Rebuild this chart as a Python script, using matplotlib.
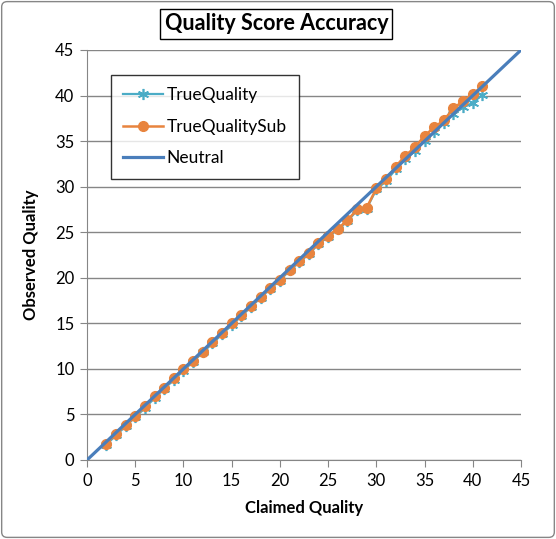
import matplotlib
matplotlib.use('Agg')
import matplotlib.pyplot as plt
from matplotlib.patches import FancyBboxPatch

plt.rcParams['font.family'] = ['Lato', 'DejaVu Sans']

# claimed quality (x) for the two measured series
claimed = list(range(2, 42))
true_sub = [1.8, 2.9, 3.8, 4.8, 5.9, 7.0, 7.9, 9.0, 10.0, 10.9,
            11.9, 13.0, 13.9, 15.0, 15.9, 16.9, 17.9, 18.9, 19.8, 20.9,
            21.8, 22.7, 23.8, 24.6, 25.4, 26.3, 27.5, 27.7, 29.8, 30.8,
            32.2, 33.4, 34.3, 35.6, 36.5, 37.3, 38.6, 39.4, 40.2, 41.0]
true_q = [1.7, 2.7, 3.7, 4.7, 5.7, 6.8, 7.8, 8.8, 9.8, 10.8,
          11.8, 12.8, 13.8, 14.8, 15.8, 16.8, 17.8, 18.8, 19.7, 20.8,
          21.7, 22.6, 23.7, 24.5, 25.3, 26.2, 27.4, 27.6, 29.7, 30.6,
          31.9, 33.0, 33.9, 35.0, 36.0, 37.0, 38.0, 38.7, 39.2, 40.1]
neutral_x = list(range(0, 46))
neutral_y = list(range(0, 46))

fig = plt.figure(figsize=(5.56, 5.39), dpi=100)
ax = fig.add_axes([87/556, 1 - 460/539, (521-87)/556, (460-50)/539])

ax.plot(claimed, true_q, color='#4BACC6', lw=1.6, marker=(6, 2, 0),
        ms=8, mew=1.2, label='TrueQuality', zorder=3)
ax.plot(claimed, true_sub, color='#E8843E', lw=1.8, marker='o',
        ms=7, label='TrueQualitySub', zorder=4)
ax.plot(neutral_x, neutral_y, color='#4A7EBB', lw=2.3, label='Neutral', zorder=5)

ax.set_xlim(0, 45)
ax.set_ylim(0, 45)
ax.set_xticks(range(0, 46, 5))
ax.set_yticks(range(0, 46, 5))
ax.yaxis.grid(True, color='#868686', lw=1)
ax.set_axisbelow(True)
for s in ['top', 'right']:
    ax.spines[s].set_visible(False)
for s in ['left', 'bottom']:
    ax.spines[s].set_color('#868686')
ax.tick_params(axis='both', direction='out', length=5, color='#868686',
               labelsize=12, pad=4)

ax.set_xlabel('Claimed Quality', fontsize=12, fontweight='bold', labelpad=8)
ax.set_ylabel('Observed Quality', fontsize=12, fontweight='bold', labelpad=12)

leg = ax.legend(loc='upper left', bbox_to_anchor=((111-87)/434, (460-75)/410),
                fontsize=12.5, frameon=True, fancybox=False, edgecolor='black',
                borderpad=0.7, labelspacing=0.9, handlelength=2.3,
                handletextpad=0.2, borderaxespad=0)
leg.get_frame().set_linewidth(1)

fig.text(0.497, 1 - 24/539, 'Quality Score Accuracy', ha='center', va='center',
         fontsize=15.5, fontweight='bold',
         bbox=dict(boxstyle='square,pad=0.2', fc='white', ec='black', lw=1))

fig.patches.append(FancyBboxPatch((0.003, 0.003), 0.994, 0.994,
                                  boxstyle='round,pad=0,rounding_size=0.01',
                                  transform=fig.transFigure, fc='none',
                                  ec='#868686', lw=1))

fig.savefig('out.png', dpi=100)
